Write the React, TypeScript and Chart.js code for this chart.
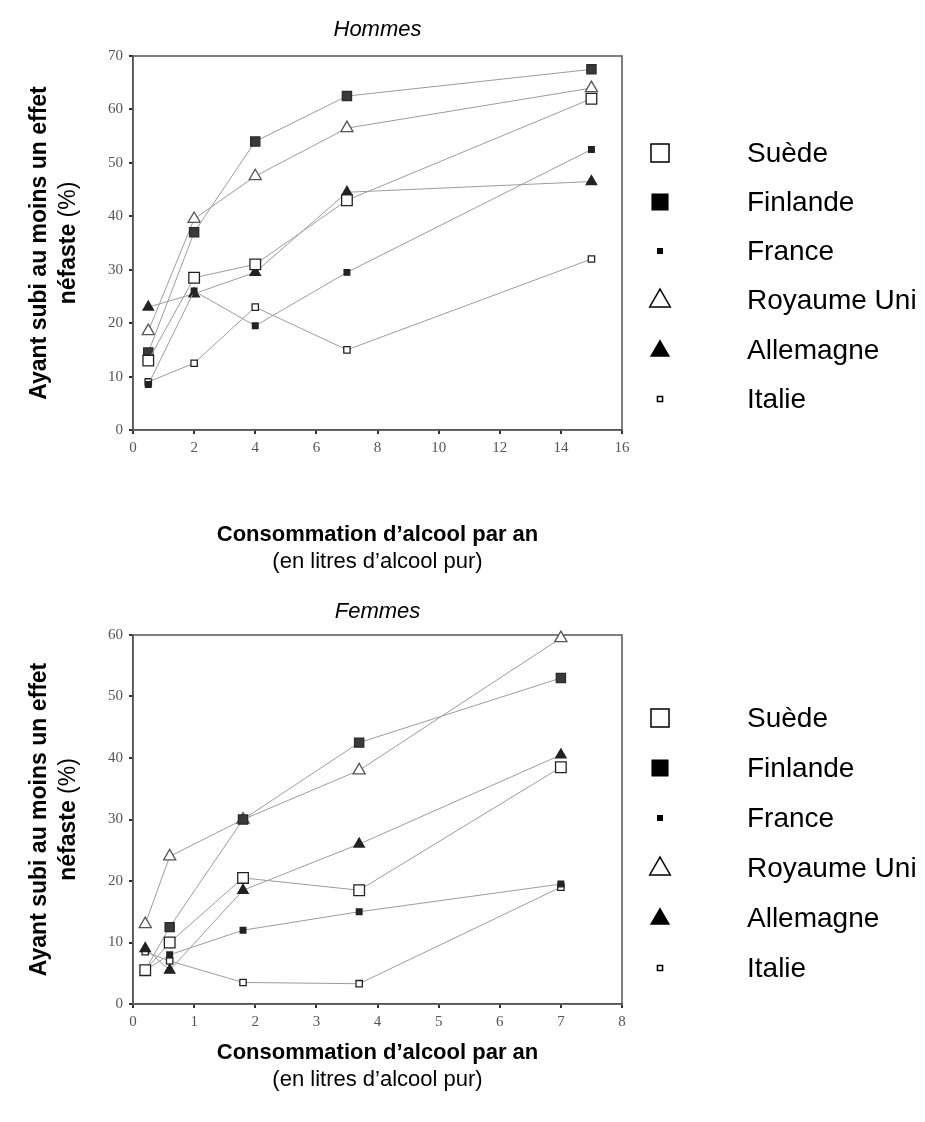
import React, { useEffect, useRef } from "react";
import { Chart, registerables } from "chart.js";

Chart.register(...registerables);

// ---------- Data ----------
const seriesNames = ["Suède", "Finlande", "France", "Royaume Uni", "Allemagne", "Italie"];

// Hommes
const hommesX = [0.5, 2, 4, 7, 15];
const hommesSuede = [13, 28.5, 31, 43, 62];
const hommesFinlande = [14.5, 37, 54, 62.5, 67.5];
const hommesFrance = [8.5, 26, 19.5, 29.5, 52.5];
const hommesRoyaumeUni = [18.5, 39.5, 47.5, 56.5, 64];
const hommesAllemagne = [23, 25.5, 29.5, 44.5, 46.5];
const hommesItalie = [9, 12.5, 23, 15, 32];
const hommesXTicks = { min: 0, max: 16, step: 2 };
const hommesYTicks = { min: 0, max: 70, step: 10 };

// Femmes
const femmesX = [0.2, 0.6, 1.8, 3.7, 7];
const femmesSuede = [5.5, 10, 20.5, 18.5, 38.5];
const femmesFinlande = [5.5, 12.5, 30, 42.5, 53];
const femmesFrance = [5.5, 8, 12, 15, 19.5];
const femmesRoyaumeUni = [13, 24, 30, 38, 59.5];
const femmesAllemagne = [9, 5.5, 18.5, 26, 40.5];
const femmesItalie = [8.5, 7, 3.5, 3.3, 19];
const femmesXTicks = { min: 0, max: 8, step: 1 };
const femmesYTicks = { min: 0, max: 60, step: 10 };

const yTitleBold1 = "Ayant subi au moins un effet";
const yTitleBold2 = "néfaste";
const yTitleNormal2 = " (%)";
const xTitleBold = "Consommation d’alcool par an";
const xTitleNormal = "(en litres d’alcool pur)";

// ---------- Styles ----------
const SANS = "'Liberation Sans', Arial, Helvetica, sans-serif";
const SERIF = "'Liberation Serif', 'Times New Roman', serif";
const LINE_COLOR = "#9c9c9c";

type Marker = { style: "rect" | "triangle"; radius: number; fill: string; stroke: string };
const markers: Marker[] = [
  { style: "rect", radius: 7.5, fill: "#ffffff", stroke: "#222" }, // Suède
  { style: "rect", radius: 6.5, fill: "#3a3a3a", stroke: "#2a2a2a" }, // Finlande
  { style: "rect", radius: 4, fill: "#222", stroke: "#222" }, // France
  { style: "triangle", radius: 7, fill: "#ffffff", stroke: "#555" }, // Royaume Uni
  { style: "triangle", radius: 6, fill: "#222", stroke: "#222" }, // Allemagne
  { style: "rect", radius: 4.5, fill: "#ffffff", stroke: "#222" }, // Italie
];

type Panel = {
  title: string;
  height: number;
  x: number[];
  series: number[][];
  xTicks: { min: number; max: number; step: number };
  yTicks: { min: number; max: number; step: number };
  area: { top: number; bottom: number };
  titleY: number;
  xTitleY: [number, number];
  legendY: number[];
};

const panels: Panel[] = [
  {
    title: "Hommes",
    height: 580,
    x: hommesX,
    series: [hommesSuede, hommesFinlande, hommesFrance, hommesRoyaumeUni, hommesAllemagne, hommesItalie],
    xTicks: hommesXTicks,
    yTicks: hommesYTicks,
    area: { top: 56, bottom: 430 },
    titleY: 30,
    xTitleY: [535, 562],
    legendY: [153, 202, 251, 300, 350, 399],
  },
  {
    title: "Femmes",
    height: 542,
    x: femmesX,
    series: [femmesSuede, femmesFinlande, femmesFrance, femmesRoyaumeUni, femmesAllemagne, femmesItalie],
    xTicks: femmesXTicks,
    yTicks: femmesYTicks,
    area: { top: 55, bottom: 424 },
    titleY: 32,
    xTitleY: [473, 500],
    legendY: [138, 188, 238, 288, 338, 388],
  },
];

const PLOT_LEFT = 133;
const PLOT_RIGHT = 622;
const WIDTH = 925;
const X_AXIS_H = 40;

function drawMarker(ctx: CanvasRenderingContext2D, m: Marker, x: number, y: number, scale: number) {
  ctx.save();
  ctx.fillStyle = m.fill;
  ctx.strokeStyle = m.stroke;
  ctx.lineWidth = 1.5;
  const r = m.radius * scale;
  ctx.beginPath();
  if (m.style === "rect") {
    const s = r * Math.SQRT1_2;
    ctx.rect(x - s, y - s, 2 * s, 2 * s);
  } else {
    ctx.moveTo(x, y - r);
    ctx.lineTo(x + r * Math.sin((2 * Math.PI) / 3), y - r * Math.cos((2 * Math.PI) / 3));
    ctx.lineTo(x + r * Math.sin((4 * Math.PI) / 3), y - r * Math.cos((4 * Math.PI) / 3));
    ctx.closePath();
  }
  ctx.fill();
  ctx.stroke();
  ctx.restore();
}

function makeDecorPlugin(p: Panel) {
  return {
    id: "decor",
    beforeDatasetsDraw(chart: any) {
      const { ctx, chartArea } = chart;
      ctx.save();
      ctx.strokeStyle = "#555";
      ctx.lineWidth = 1.5;
      ctx.strokeRect(chartArea.left, chartArea.top, chartArea.right - chartArea.left, chartArea.bottom - chartArea.top);
      ctx.restore();
    },
    afterDraw(chart: any) {
      const { ctx, chartArea } = chart;
      const cx = (chartArea.left + chartArea.right) / 2;
      const cy = (chartArea.top + chartArea.bottom) / 2;
      ctx.save();
      ctx.fillStyle = "#000";
      ctx.textBaseline = "middle";

      // Title
      ctx.textAlign = "center";
      ctx.font = `italic 22px ${SANS}`;
      ctx.fillText(p.title, cx, p.titleY);

      // X title
      ctx.font = `bold 22px ${SANS}`;
      ctx.fillText(xTitleBold, cx, p.xTitleY[0]);
      ctx.font = `22px ${SANS}`;
      ctx.fillText(xTitleNormal, cx, p.xTitleY[1]);

      // Y title (rotated)
      ctx.save();
      ctx.translate(0, cy);
      ctx.rotate(-Math.PI / 2);
      ctx.textAlign = "center";
      ctx.font = `bold 23px ${SANS}`;
      ctx.fillText(yTitleBold1, 0, 40);
      const wb = ctx.measureText(yTitleBold2).width;
      ctx.font = `23px ${SANS}`;
      const wn = ctx.measureText(yTitleNormal2).width;
      const start = -(wb + wn) / 2;
      ctx.textAlign = "left";
      ctx.font = `bold 23px ${SANS}`;
      ctx.fillText(yTitleBold2, start, 69);
      ctx.font = `23px ${SANS}`;
      ctx.fillText(yTitleNormal2, start + wb, 69);
      ctx.restore();

      // Legend
      ctx.textAlign = "left";
      ctx.font = `28px ${SANS}`;
      seriesNames.forEach((name, i) => {
        const y = p.legendY[i];
        const m = markers[i];
        const lm: Marker = { ...m, stroke: "#000", fill: m.fill === "#ffffff" ? "#ffffff" : "#000" };
        const scale = i === 2 || i === 5 ? 0.8 : 1.7;
        drawMarker(ctx, lm, 660, i === 3 || i === 4 ? y + 1 : y, scale);
        ctx.fillStyle = "#000";
        ctx.fillText(name, 747, y + 1);
      });
      ctx.restore();
    },
  };
}

function buildConfig(p: Panel): any {
  const datasets = p.series.map((vals, i) => {
    const m = markers[i];
    return {
      label: seriesNames[i],
      data: vals.map((v, j) => ({ x: p.x[j], y: v })),
      showLine: true,
      borderColor: LINE_COLOR,
      borderWidth: 1,
      pointStyle: m.style,
      pointRadius: m.radius,
      pointBackgroundColor: m.fill,
      pointBorderColor: m.stroke,
      pointBorderWidth: 1.3,
      clip: false,
    };
  });
  const tickFont = { family: SERIF, size: 15 };
  return {
    type: "scatter",
    data: { datasets },
    options: {
      responsive: false,
      animation: false,
      devicePixelRatio: 1,
      layout: {
        padding: {
          left: 0,
          right: WIDTH - PLOT_RIGHT,
          top: p.area.top,
          bottom: p.height - p.area.bottom - X_AXIS_H,
        },
      },
      plugins: { legend: { display: false }, tooltip: { enabled: false } },
      scales: {
        x: {
          type: "linear",
          min: p.xTicks.min,
          max: p.xTicks.max,
          ticks: { stepSize: p.xTicks.step, font: tickFont, color: "#555", padding: 5 },
          grid: { display: true, drawOnChartArea: false, drawTicks: true, tickLength: 4, color: "#333", lineWidth: 2 },
          border: { display: true, color: "#555", width: 1.5 },
          afterFit: (s: any) => {
            s.height = X_AXIS_H;
          },
        },
        y: {
          type: "linear",
          min: p.yTicks.min,
          max: p.yTicks.max,
          ticks: { stepSize: p.yTicks.step, font: tickFont, color: "#555", padding: 6 },
          grid: { display: true, drawOnChartArea: false, drawTicks: true, tickLength: 4, color: "#333", lineWidth: 2 },
          border: { display: true, color: "#555", width: 1.5 },
          afterFit: (s: any) => {
            s.width = PLOT_LEFT;
          },
        },
      },
    },
    plugins: [makeDecorPlugin(p)],
  };
}

function PanelChart({ panel }: { panel: Panel }) {
  const ref = useRef<HTMLCanvasElement>(null);
  useEffect(() => {
    const chart = new Chart(ref.current as HTMLCanvasElement, buildConfig(panel));
    return () => chart.destroy();
  }, [panel]);
  return <canvas ref={ref} width={WIDTH} height={panel.height} style={{ display: "block", width: WIDTH, height: panel.height }} />;
}

export default function App() {
  return (
    <div style={{ position: "absolute", left: 0, top: 0, width: WIDTH, height: 1122, background: "#fff" }}>
      {panels.map((p) => (
        <PanelChart key={p.title} panel={p} />
      ))}
    </div>
  );
}
